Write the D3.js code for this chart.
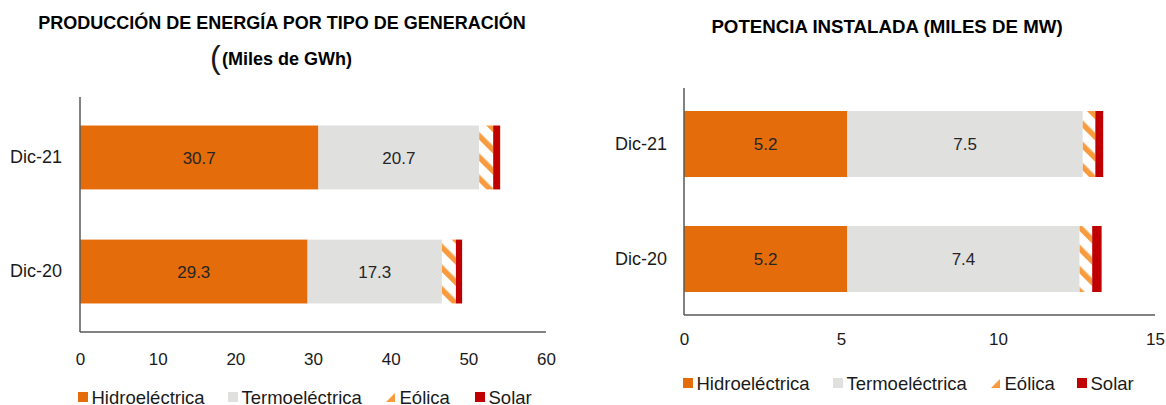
<!DOCTYPE html>
<html>
<head>
<meta charset="utf-8">
<script src="https://cdn.jsdelivr.net/npm/d3@7"></script>
<style>
	body { margin: 0; background: #fff; }
	svg { display: block; font-family: "Liberation Sans", Arial, sans-serif; }
</style>
</head>
<body>
<svg id="chart" width="1166" height="405"></svg>
<script>
// Data
var categories = ["Dic-21", "Dic-20"];
var seriesNames = ["Hidroeléctrica", "Termoeléctrica", "Eólica", "Solar"];

// Produccion (miles de GWh)
var hidroGWh = [30.7, 29.3];
var termoGWh = [20.7, 17.3];
var eolicaGWh = [1.8, 1.8];
var solarGWh = [0.9, 0.8];
var ticksGWh = [0, 10, 20, 30, 40, 50, 60];

// Potencia (miles de MW)
var hidroMW = [5.2, 5.2];
var termoMW = [7.5, 7.4];
var eolicaMW = [0.4, 0.4];
var solarMW = [0.25, 0.3];
var ticksMW = [0, 5, 10, 15];

var colors = {
	"Hidroeléctrica": "#E46C0A",
	"Termoeléctrica": "#E0E0DF",
	"Eólica": "url(#stripes)",
	"Solar": "#C00000"
};

var svg = d3.select("#chart");

// diagonal stripe pattern for Eolica
var defs = svg.append("defs");
var pat = defs.append("pattern")
	.attr("id", "stripes")
	.attr("patternUnits", "userSpaceOnUse")
	.attr("width", 15)
	.attr("height", 15)
	.attr("patternTransform", "rotate(-45)");
pat.append("rect").attr("width", 15).attr("height", 15).attr("fill", "#fff");
pat.append("rect").attr("width", 5.5).attr("height", 15).attr("fill", "#F89B3F");

function buildRows(h, t, e, s) {
	return categories.map(function (c, i) {
		return { cat: c, values: [h[i], t[i], e[i], s[i]] };
	});
}

function drawChart(cfg) {
	var g = svg.append("g");
	var x = d3.scaleLinear().domain(cfg.domain).range([cfg.left, cfg.right]);
	var y = d3.scaleBand().domain(categories)
		.range([cfg.top, cfg.bottom])
		.paddingInner(cfg.padIn)
		.paddingOuter(cfg.padOut);

	var stack = d3.stack().keys([0, 1, 2, 3])(cfg.rows.map(function (r) { return r.values; }));

	stack.forEach(function (layer, k) {
		g.selectAll(null)
			.data(layer)
			.enter()
			.append("rect")
			.attr("x", function (d) { return x(d[0]); })
			.attr("y", function (d, i) { return y(categories[i]); })
			.attr("width", function (d) { return x(d[1]) - x(d[0]); })
			.attr("height", y.bandwidth())
			.attr("fill", colors[seriesNames[k]]);

		// value labels only for the two big series
		if (k < 2) {
			g.selectAll(null)
				.data(layer)
				.enter()
				.append("text")
				.attr("x", function (d) { return (x(d[0]) + x(d[1])) / 2; })
				.attr("y", function (d, i) { return y(categories[i]) + y.bandwidth() / 2; })
				.attr("dy", "0.36em")
				.attr("text-anchor", "middle")
				.style("font-size", "17px")
				.style("fill", "#262626")
				.text(function (d) { return d3.format(".1f")(d[1] - d[0]); });
		}
	});

	// axes lines
	g.append("line")
		.attr("x1", cfg.left).attr("x2", cfg.left)
		.attr("y1", cfg.top).attr("y2", cfg.bottom)
		.attr("stroke", "#595959").attr("stroke-width", 1.5);
	g.append("line")
		.attr("x1", cfg.left).attr("x2", cfg.right)
		.attr("y1", cfg.bottom).attr("y2", cfg.bottom)
		.attr("stroke", "#595959").attr("stroke-width", 1.5);

	// x tick labels
	var xAxis = g.append("g")
		.attr("transform", "translate(0," + cfg.bottom + ")")
		.call(d3.axisBottom(x).tickValues(cfg.ticks).tickSize(0).tickPadding(cfg.tickPad));
	xAxis.select(".domain").remove();
	xAxis.selectAll("text")
		.style("font-size", "17px")
		.style("font-family", "Liberation Sans, Arial, sans-serif")
		.style("fill", "#1a1a1a");

	// category labels
	var yAxis = g.append("g")
		.attr("transform", "translate(" + cfg.left + ",0)")
		.call(d3.axisLeft(y).tickSize(0).tickPadding(cfg.catPad));
	yAxis.select(".domain").remove();
	yAxis.selectAll("text")
		.style("font-size", "18px")
		.style("font-family", "Liberation Sans, Arial, sans-serif")
		.style("fill", "#1a1a1a");

	// legend
	var lg = g.selectAll(".legend")
		.data(seriesNames)
		.enter()
		.append("g")
		.attr("transform", function (d, i) {
			return "translate(" + cfg.legendX[i] + "," + cfg.legendY + ")";
		});
	lg.each(function (d) {
		var item = d3.select(this);
		if (d === "Eólica") {
			item.append("path")
				.attr("d", "M9,-11L9,-2L0,-2Z")
				.attr("fill", "#F89B3F");
		} else {
			item.append("rect")
				.attr("x", 0).attr("y", -12)
				.attr("width", 10).attr("height", 10)
				.attr("fill", colors[d]);
		}
		item.append("text")
			.attr("x", 13.5)
			.attr("y", 0)
			.style("font-size", "18.5px")
			.style("fill", "#1a1a1a")
			.text(d);
	});
}

// Left chart
svg.append("text")
	.attr("x", 282).attr("y", 29)
	.attr("text-anchor", "middle")
	.style("font-size", "18px").style("font-weight", "bold")
	.text("PRODUCCIÓN DE ENERGÍA POR TIPO DE GENERACIÓN");
svg.append("text")
	.attr("x", 210).attr("y", 68)
	.style("font-size", "32px")
	.style("fill", "#1a1a1a")
	.text("(");
svg.append("text")
	.attr("x", 222).attr("y", 65)
	.style("font-size", "18px").style("font-weight", "bold")
	.text("(Miles de GWh)");

drawChart({
	rows: buildRows(hidroGWh, termoGWh, eolicaGWh, solarGWh),
	domain: [0, 60], ticks: ticksGWh,
	left: 80, right: 546, top: 97, bottom: 332,
	padIn: 0.44, padOut: 0.25, tickPad: 21, catPad: 18,
	legendX: [78, 228, 386, 475], legendY: 404
});

// Right chart
svg.append("text")
	.attr("x", 887).attr("y", 33)
	.attr("text-anchor", "middle")
	.style("font-size", "18.7px").style("font-weight", "bold")
	.text("POTENCIA INSTALADA (MILES DE MW)");

drawChart({
	rows: buildRows(hidroMW, termoMW, eolicaMW, solarMW),
	domain: [0, 15], ticks: ticksMW,
	left: 684, right: 1155, top: 88, bottom: 315,
	padIn: 0.426, padOut: 0.2, tickPad: 18, catPad: 17,
	legendX: [683, 833, 991, 1077], legendY: 390
});
</script>
</body>
</html>
